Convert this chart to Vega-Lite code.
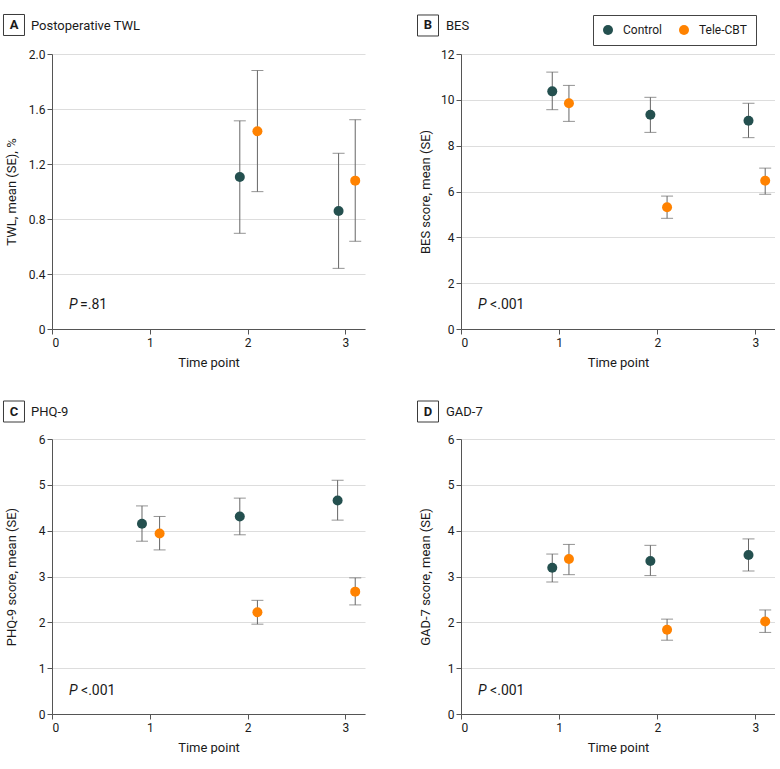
{
"$schema": "https://vega.github.io/schema/vega-lite/v6.json",
"padding": {"left": 1, "top": 12, "right": 0, "bottom": 0},
"background": "white",
"config": {
  "font": "Roboto",
  "view": {"stroke": null},
  "axis": {"labelFontSize": 12, "titleFontSize": 13, "titleFontWeight": "normal", "labelColor": "#1a1a1a", "titleColor": "#1a1a1a", "domainColor": "#555555", "tickColor": "#555555", "gridColor": "#dddddd", "tickSize": 5, "domainWidth": 1, "tickWidth": 1},
  "axisX": {"grid": false, "labelPadding": 3, "titlePadding": 8, "labelAngle": 0},
  "axisY": {"grid": true, "labelPadding": 2, "titlePadding": 10},
  "legend": {"direction": "horizontal", "strokeColor": "#444444", "padding": 9, "symbolSize": 100, "symbolType": "circle", "labelFontSize": 12, "labelOffset": 9, "columnPadding": 16, "labelColor": "#1a1a1a", "symbolStrokeWidth": 0}
},
"datasets": {
  "main": [
    {"panel": "A", "group": "Control", "time": 2, "x": 1.92, "mean": 1.105, "lo": 0.696, "hi": 1.514},
    {"panel": "A", "group": "Tele-CBT", "time": 2, "x": 2.10, "mean": 1.438, "lo": 0.999, "hi": 1.88},
    {"panel": "A", "group": "Control", "time": 3, "x": 2.93, "mean": 0.858, "lo": 0.441, "hi": 1.278},
    {"panel": "A", "group": "Tele-CBT", "time": 3, "x": 3.10, "mean": 1.079, "lo": 0.638, "hi": 1.522},
    {"panel": "B", "group": "Control", "time": 1, "x": 0.93, "mean": 10.37, "lo": 9.57, "hi": 11.21},
    {"panel": "B", "group": "Tele-CBT", "time": 1, "x": 1.10, "mean": 9.85, "lo": 9.06, "hi": 10.63},
    {"panel": "B", "group": "Control", "time": 2, "x": 1.93, "mean": 9.35, "lo": 8.58, "hi": 10.11},
    {"panel": "B", "group": "Tele-CBT", "time": 2, "x": 2.10, "mean": 5.31, "lo": 4.83, "hi": 5.80},
    {"panel": "B", "group": "Control", "time": 3, "x": 2.93, "mean": 9.09, "lo": 8.35, "hi": 9.85},
    {"panel": "B", "group": "Tele-CBT", "time": 3, "x": 3.10, "mean": 6.47, "lo": 5.88, "hi": 7.02},
    {"panel": "C", "group": "Control", "time": 1, "x": 0.92, "mean": 4.15, "lo": 3.77, "hi": 4.54},
    {"panel": "C", "group": "Tele-CBT", "time": 1, "x": 1.10, "mean": 3.94, "lo": 3.58, "hi": 4.31},
    {"panel": "C", "group": "Control", "time": 2, "x": 1.92, "mean": 4.31, "lo": 3.91, "hi": 4.71},
    {"panel": "C", "group": "Tele-CBT", "time": 2, "x": 2.10, "mean": 2.22, "lo": 1.96, "hi": 2.48},
    {"panel": "C", "group": "Control", "time": 3, "x": 2.92, "mean": 4.66, "lo": 4.23, "hi": 5.10},
    {"panel": "C", "group": "Tele-CBT", "time": 3, "x": 3.10, "mean": 2.67, "lo": 2.38, "hi": 2.97},
    {"panel": "D", "group": "Control", "time": 1, "x": 0.93, "mean": 3.19, "lo": 2.88, "hi": 3.49},
    {"panel": "D", "group": "Tele-CBT", "time": 1, "x": 1.10, "mean": 3.38, "lo": 3.04, "hi": 3.70},
    {"panel": "D", "group": "Control", "time": 2, "x": 1.93, "mean": 3.34, "lo": 3.02, "hi": 3.68},
    {"panel": "D", "group": "Tele-CBT", "time": 2, "x": 2.10, "mean": 1.84, "lo": 1.61, "hi": 2.07},
    {"panel": "D", "group": "Control", "time": 3, "x": 2.93, "mean": 3.47, "lo": 3.12, "hi": 3.82},
    {"panel": "D", "group": "Tele-CBT", "time": 3, "x": 3.10, "mean": 2.02, "lo": 1.78, "hi": 2.27}
  ]
},
"vconcat": [
 {"hconcat": [
  {"width": 313, "height": 275,
   "layer": [
     {"data": {"name": "main"}, "transform": [{"filter": "datum.panel === 'A'"}],
      "mark": {"type": "errorbar", "color": "#666666", "ticks": {"size": 12, "thickness": 1}, "rule": {"strokeWidth": 1}},
      "encoding": {
        "x": {"field": "x", "type": "quantitative", "title": "Time point", "scale": {"domain": [0, 3.2], "nice": false, "zero": false}, "axis": {"values": [0, 1, 2, 3], "format": "d"}},
        "y": {"field": "lo", "type": "quantitative", "title": "TWL, mean (SE), %", "scale": {"domain": [0, 2], "nice": false}, "axis": {"values": [0, 0.4, 0.8, 1.2, 1.6, 2.0], "labelExpr": "datum.value === 0 ? '0' : format(datum.value, '.1f')", "minExtent": 24, "maxExtent": 24}},
        "y2": {"field": "hi"}}},
     {"data": {"name": "main"}, "transform": [{"filter": "datum.panel === 'A'"}],
      "mark": {"type": "point", "filled": true, "size": 100, "opacity": 1, "shape": "circle"},
      "encoding": {
        "x": {"field": "x", "type": "quantitative", "title": "Time point"},
        "y": {"field": "mean", "type": "quantitative", "title": "TWL, mean (SE), %"},
        "color": {"field": "group", "type": "nominal", "scale": {"domain": ["Control", "Tele-CBT"], "range": ["#24504f", "#ff8200"]}, "legend": {"title": null, "orient": "none", "legendX": 541, "legendY": -39}}}},
     {"data": {"values": [{"letter": "A", "name": "Postoperative TWL", "p": "=.81"}]},
      "layer": [
        {"mark": {"type": "point", "shape": "square", "size": 441, "filled": false, "color": "#3a3a3a", "strokeWidth": 1, "opacity": 1},
         "encoding": {"x": {"datum": -0.3885}, "y": {"datum": 2.211}}},
        {"mark": {"type": "text", "fontWeight": "bold", "fontSize": 13, "align": "center", "baseline": "middle", "color": "#1a1a1a"},
         "encoding": {"text": {"field": "letter"}, "x": {"datum": -0.3885}, "y": {"datum": 2.211}}},
        {"mark": {"type": "text", "fontSize": 13, "align": "left", "baseline": "middle", "color": "#1a1a1a"},
         "encoding": {"text": {"field": "name"}, "x": {"datum": -0.2147}, "y": {"datum": 2.207}}},
        {"mark": {"type": "text", "text": "P", "fontStyle": "italic", "align": "left", "baseline": "middle", "fontSize": 14, "color": "#1a1a1a"},
         "encoding": {"x": {"datum": 0.174}, "y": {"datum": 0.175}}},
        {"mark": {"type": "text", "align": "left", "baseline": "middle", "fontSize": 14, "dx": 11, "color": "#1a1a1a"},
         "encoding": {"text": {"field": "p"}, "x": {"datum": 0.174}, "y": {"datum": 0.175}}}
      ]}
   ]},
  {"width": 314, "height": 275,
   "layer": [
     {"data": {"name": "main"}, "transform": [{"filter": "datum.panel === 'B'"}],
      "mark": {"type": "errorbar", "color": "#666666", "ticks": {"size": 12, "thickness": 1}, "rule": {"strokeWidth": 1}},
      "encoding": {
        "x": {"field": "x", "type": "quantitative", "title": "Time point", "scale": {"domain": [0, 3.2], "nice": false, "zero": false}, "axis": {"values": [0, 1, 2, 3], "format": "d"}},
        "y": {"field": "lo", "type": "quantitative", "title": "BES score, mean (SE)", "scale": {"domain": [0, 12], "nice": false}, "axis": {"values": [0, 2, 4, 6, 8, 10, 12], "format": "d", "minExtent": 19, "maxExtent": 19}},
        "y2": {"field": "hi"}}},
     {"data": {"name": "main"}, "transform": [{"filter": "datum.panel === 'B'"}],
      "mark": {"type": "point", "filled": true, "size": 100, "opacity": 1, "shape": "circle"},
      "encoding": {
        "x": {"field": "x", "type": "quantitative", "title": "Time point"},
        "y": {"field": "mean", "type": "quantitative", "title": "BES score, mean (SE)"},
        "color": {"field": "group", "type": "nominal", "scale": {"domain": ["Control", "Tele-CBT"], "range": ["#24504f", "#ff8200"]}, "legend": {"title": null, "orient": "none", "legendX": 541, "legendY": -39}}}},
     {"data": {"values": [{"letter": "B", "name": "BES", "p": "<.001"}]},
      "layer": [
        {"mark": {"type": "point", "shape": "square", "size": 441, "filled": false, "color": "#3a3a3a", "strokeWidth": 1, "opacity": 1},
         "encoding": {"x": {"datum": -0.3363}, "y": {"datum": 13.244}}},
        {"mark": {"type": "text", "fontWeight": "bold", "fontSize": 13, "align": "center", "baseline": "middle", "color": "#1a1a1a"},
         "encoding": {"text": {"field": "letter"}, "x": {"datum": -0.3363}, "y": {"datum": 13.244}}},
        {"mark": {"type": "text", "fontSize": 13, "align": "left", "baseline": "middle", "color": "#1a1a1a"},
         "encoding": {"text": {"field": "name"}, "x": {"datum": -0.153}, "y": {"datum": 13.22}}},
        {"mark": {"type": "text", "text": "P", "fontStyle": "italic", "align": "left", "baseline": "middle", "fontSize": 14, "color": "#1a1a1a"},
         "encoding": {"x": {"datum": 0.174}, "y": {"datum": 1.05}}},
        {"mark": {"type": "text", "align": "left", "baseline": "middle", "fontSize": 14, "dx": 12, "color": "#1a1a1a"},
         "encoding": {"text": {"field": "p"}, "x": {"datum": 0.174}, "y": {"datum": 1.05}}}
      ]}
   ]}
 ], "spacing": 50},
 {"hconcat": [
  {"width": 313, "height": 275,
   "layer": [
     {"data": {"name": "main"}, "transform": [{"filter": "datum.panel === 'C'"}],
      "mark": {"type": "errorbar", "color": "#666666", "ticks": {"size": 12, "thickness": 1}, "rule": {"strokeWidth": 1}},
      "encoding": {
        "x": {"field": "x", "type": "quantitative", "title": "Time point", "scale": {"domain": [0, 3.2], "nice": false, "zero": false}, "axis": {"values": [0, 1, 2, 3], "format": "d"}},
        "y": {"field": "lo", "type": "quantitative", "title": "PHQ-9 score, mean (SE)", "scale": {"domain": [0, 6], "nice": false}, "axis": {"values": [0, 1, 2, 3, 4, 5, 6], "format": "d", "minExtent": 24, "maxExtent": 24}},
        "y2": {"field": "hi"}}},
     {"data": {"name": "main"}, "transform": [{"filter": "datum.panel === 'C'"}],
      "mark": {"type": "point", "filled": true, "size": 100, "opacity": 1, "shape": "circle"},
      "encoding": {
        "x": {"field": "x", "type": "quantitative", "title": "Time point"},
        "y": {"field": "mean", "type": "quantitative", "title": "PHQ-9 score, mean (SE)"},
        "color": {"field": "group", "type": "nominal", "scale": {"domain": ["Control", "Tele-CBT"], "range": ["#24504f", "#ff8200"]}, "legend": {"title": null, "orient": "none", "legendX": 541, "legendY": -39}}}},
     {"data": {"values": [{"letter": "C", "name": "PHQ-9", "p": "<.001"}]},
      "layer": [
        {"mark": {"type": "point", "shape": "square", "size": 441, "filled": false, "color": "#3a3a3a", "strokeWidth": 1, "opacity": 1},
         "encoding": {"x": {"datum": -0.3885}, "y": {"datum": 6.6}}},
        {"mark": {"type": "text", "fontWeight": "bold", "fontSize": 13, "align": "center", "baseline": "middle", "color": "#1a1a1a"},
         "encoding": {"text": {"field": "letter"}, "x": {"datum": -0.3885}, "y": {"datum": 6.6}}},
        {"mark": {"type": "text", "fontSize": 13, "align": "left", "baseline": "middle", "color": "#1a1a1a"},
         "encoding": {"text": {"field": "name"}, "x": {"datum": -0.2147}, "y": {"datum": 6.6}}},
        {"mark": {"type": "text", "text": "P", "fontStyle": "italic", "align": "left", "baseline": "middle", "fontSize": 14, "color": "#1a1a1a"},
         "encoding": {"x": {"datum": 0.174}, "y": {"datum": 0.51}}},
        {"mark": {"type": "text", "align": "left", "baseline": "middle", "fontSize": 14, "dx": 12, "color": "#1a1a1a"},
         "encoding": {"text": {"field": "p"}, "x": {"datum": 0.174}, "y": {"datum": 0.51}}}
      ]}
   ]},
  {"width": 314, "height": 275,
   "layer": [
     {"data": {"name": "main"}, "transform": [{"filter": "datum.panel === 'D'"}],
      "mark": {"type": "errorbar", "color": "#666666", "ticks": {"size": 12, "thickness": 1}, "rule": {"strokeWidth": 1}},
      "encoding": {
        "x": {"field": "x", "type": "quantitative", "title": "Time point", "scale": {"domain": [0, 3.2], "nice": false, "zero": false}, "axis": {"values": [0, 1, 2, 3], "format": "d"}},
        "y": {"field": "lo", "type": "quantitative", "title": "GAD-7 score, mean (SE)", "scale": {"domain": [0, 6], "nice": false}, "axis": {"values": [0, 1, 2, 3, 4, 5, 6], "format": "d", "minExtent": 19, "maxExtent": 19}},
        "y2": {"field": "hi"}}},
     {"data": {"name": "main"}, "transform": [{"filter": "datum.panel === 'D'"}],
      "mark": {"type": "point", "filled": true, "size": 100, "opacity": 1, "shape": "circle"},
      "encoding": {
        "x": {"field": "x", "type": "quantitative", "title": "Time point"},
        "y": {"field": "mean", "type": "quantitative", "title": "GAD-7 score, mean (SE)"},
        "color": {"field": "group", "type": "nominal", "scale": {"domain": ["Control", "Tele-CBT"], "range": ["#24504f", "#ff8200"]}, "legend": {"title": null, "orient": "none", "legendX": 541, "legendY": -39}}}},
     {"data": {"values": [{"letter": "D", "name": "GAD-7", "p": "<.001"}]},
      "layer": [
        {"mark": {"type": "point", "shape": "square", "size": 441, "filled": false, "color": "#3a3a3a", "strokeWidth": 1, "opacity": 1},
         "encoding": {"x": {"datum": -0.3363}, "y": {"datum": 6.6}}},
        {"mark": {"type": "text", "fontWeight": "bold", "fontSize": 13, "align": "center", "baseline": "middle", "color": "#1a1a1a"},
         "encoding": {"text": {"field": "letter"}, "x": {"datum": -0.3363}, "y": {"datum": 6.6}}},
        {"mark": {"type": "text", "fontSize": 13, "align": "left", "baseline": "middle", "color": "#1a1a1a"},
         "encoding": {"text": {"field": "name"}, "x": {"datum": -0.153}, "y": {"datum": 6.6}}},
        {"mark": {"type": "text", "text": "P", "fontStyle": "italic", "align": "left", "baseline": "middle", "fontSize": 14, "color": "#1a1a1a"},
         "encoding": {"x": {"datum": 0.174}, "y": {"datum": 0.51}}},
        {"mark": {"type": "text", "align": "left", "baseline": "middle", "fontSize": 14, "dx": 12, "color": "#1a1a1a"},
         "encoding": {"text": {"field": "p"}, "x": {"datum": 0.174}, "y": {"datum": 0.51}}}
      ]}
   ]}
 ], "spacing": 50}
],
"spacing": 30
}
